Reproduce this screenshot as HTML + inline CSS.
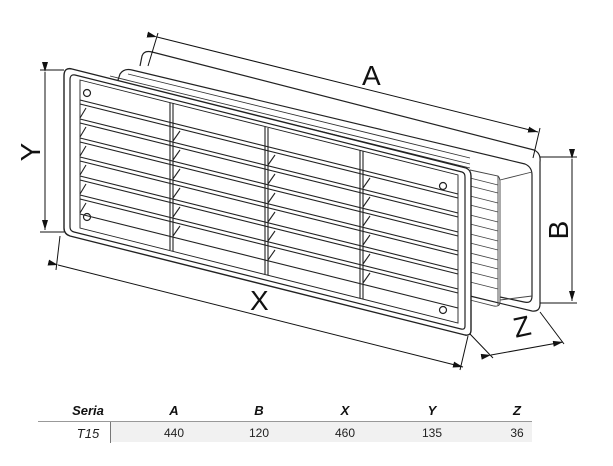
<!DOCTYPE html>
<html><head><meta charset="utf-8"><style>
html,body{margin:0;padding:0;background:#fff;}
svg{display:block}
text{font-family:"Liberation Sans",sans-serif;}
</style></head><body>
<svg width="613" height="466" viewBox="0 0 613 466" xmlns="http://www.w3.org/2000/svg">
<defs>
<marker id="ar" markerWidth="10" markerHeight="6" refX="10" refY="3" orient="auto" markerUnits="userSpaceOnUse">
<path d="M0,0 L10,3 L0,6 z" fill="#111"/></marker>
</defs>
<g fill="none" stroke="#222" stroke-width="1.2">
<path d="M140,66 L142,56 Q144,50 152,52 L534,150 Q541,153 540,162 L540,304 Q540,312 532,311 L470,296"/>
<path d="M118,80 L120,74 Q124,68 132,70 L525,164 Q532,167 532,175 L532,296 Q532,304 524,302 L500,297"/>
<g stroke="#444" stroke-width="0.9">
<path d="M470,178 L498,185 M470,186 L498,193 M470,196 L498,203 M470,205 L498,212 M470,215 L498,222 M470,224 L498,231 M470,234 L498,241 M470,243 L498,250 M470,253 L498,260 M470,262 L498,269 M470,272 L498,279 M470,282 L498,289"/>
<path d="M498,176 L498,306 M500,180 L532,172 M500,300 L532,296"/>
<path d="M470,170 L498,176 Q500,178 500,182 L500,302 Q500,307 494,306 L470,300"/>
</g>
<g stroke="#333" stroke-width="0.9">
<path d="M110,76 L470,164 M112,80 L470,168 M108,84 L470,172"/>
<path d="M128,74 L470,158"/>
</g>
<path d="M72,69 L466,168 Q471,170 471,176 L471,330 Q471,336 465,335 L70,236 Q64,234 64,228 L64,76 Q64,67 72,69 z" fill="#fff" stroke-width="1.4"/>
<path d="M75,75 L462,172 Q465,173 465,177 L465,326 Q465,330 461,329 L74,232 Q70,231 70,227 L70,80 Q70,74 75,75 z"/>
<path d="M80,80 L458,175 L458,323 L80,228 z" stroke-width="0.9"/>
<g stroke="#222" stroke-width="1.1">
<path d="M80,100 L458,194 M80,104 L458,198"/>
<path d="M80,119 L458,213 M80,123 L458,217"/>
<path d="M80,138 L458,232 M80,142 L458,236"/>
<path d="M80,157 L458,251 M80,161 L458,255"/>
<path d="M80,176 L458,270 M80,180 L458,274"/>
<path d="M80,195 L458,289 M80,199 L458,293"/>
<path d="M80,214 L458,308"/>
<path d="M170,103 L170,250 M173,103 L173,251"/>
<path d="M265,127 L265,274 M268,128 L268,275"/>
<path d="M360,150 L360,298 M363,151 L363,299"/>
<path d="M80,118 L86,108 M80,137 L86,127 M80,156 L86,146 M80,175 L86,165 M80,194 L86,184 M80,213 L86,203"/>
<path d="M173,141 L180,131 M173,160 L180,150 M173,179 L180,169 M173,198 L180,188 M173,217 L180,207 M173,236 L180,226"/>
<path d="M268,165 L275,155 M268,184 L275,174 M268,203 L275,193 M268,222 L275,212 M268,241 L275,231 M268,260 L275,250"/>
<path d="M363,188 L370,178 M363,207 L370,197 M363,226 L370,216 M363,245 L370,235 M363,264 L370,254 M363,283 L370,273"/>
</g>
<circle cx="87" cy="93" r="3.5"/><circle cx="87" cy="217" r="3.5"/>
<circle cx="443" cy="186" r="3.5"/><circle cx="443" cy="310" r="3.5"/>
<g stroke="#111" stroke-width="1">
<path d="M40,70 L64,70 M40,232 L64,232"/>
<path d="M45,72 L45,230" marker-start="url(#ar)" marker-end="url(#ar)"/>
<path d="M158,33 L148,66 M540,128 L533,158"/>
<path d="M157,37 L538,132" marker-start="url(#ar)" marker-end="url(#ar)"/>
<path d="M540,157 L577,157 M540,303 L577,303"/>
<path d="M572,159 L572,301" marker-start="url(#ar)" marker-end="url(#ar)"/>
<path d="M60,236 L56,270 M468,336 L460,370"/>
<path d="M58,265 L463,367" marker-start="url(#ar)" marker-end="url(#ar)"/>
<path d="M470,334 L493,358 M540,312 L564,344"/>
<path d="M491,355 L563,342" marker-start="url(#ar)" marker-end="url(#ar)"/>
</g>
</g>
<g font-size="28" fill="#111">
<text x="362" y="85">A</text>
<text x="250" y="310">X</text>
<text transform="translate(40,152) rotate(-90)" text-anchor="middle">Y</text>
<text transform="translate(568,230) rotate(-90)" text-anchor="middle">B</text>
<text transform="translate(524,336) rotate(-12)" text-anchor="middle">Z</text>
</g>
<rect x="111" y="422" width="421" height="20" fill="#f1f1f1"/>
<line x1="38" y1="421.5" x2="532" y2="421.5" stroke="#999" stroke-width="1"/>
<line x1="110.5" y1="422" x2="110.5" y2="443" stroke="#777" stroke-width="1"/>
<g font-size="13" font-style="italic" font-weight="bold" fill="#111" text-anchor="middle">
<text x="88" y="415">Seria</text><text x="174" y="415">A</text><text x="259" y="415">B</text>
<text x="345" y="415">X</text><text x="432" y="415">Y</text><text x="517" y="415">Z</text>
</g>
<g font-size="12" fill="#222" text-anchor="middle">
<text x="88" y="438" font-style="italic" font-size="13">T15</text>
<text x="174" y="437">440</text><text x="259" y="437">120</text><text x="345" y="437">460</text>
<text x="432" y="437">135</text><text x="517" y="437">36</text>
</g>
</svg>
</body></html>
